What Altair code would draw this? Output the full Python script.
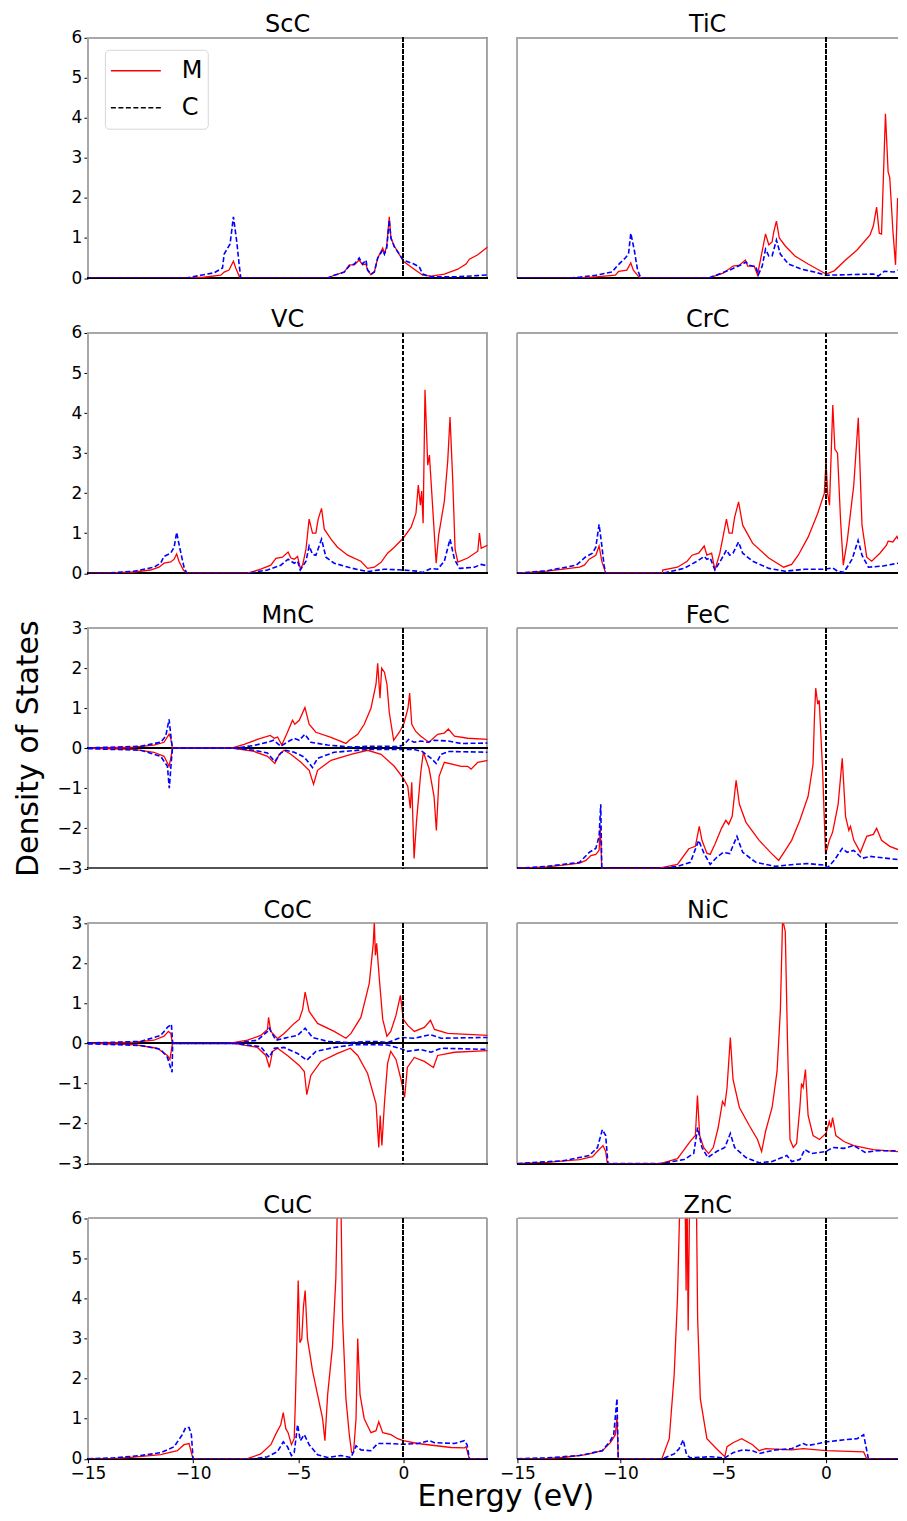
import altair as alt
import pandas as pd

FONT = "DejaVu Sans"

# ---------------- data: (energy eV, DOS) pairs ----------------
SCC_M = [(-15,0),(-10.3,0),(-9.5,0.02),(-8.68,0.07),(-8.52,0.15),(-8.29,0.2),(-8.08,0.42),(-7.97,0.25),(-7.81,0.05),(-7.73,0),
         (-3.6,0),(-3.29,0.07),(-2.81,0.15),(-2.57,0.33),(-2.33,0.33),(-2.1,0.45),(-1.94,0.33),(-1.78,0.35),(-1.7,0.2),(-1.54,0.08),
         (-1.38,0.15),(-1.22,0.5),(-0.98,0.75),(-0.9,0.6),(-0.79,0.8),(-0.67,1.53),(-0.59,1.0),(-0.43,0.8),(0,0.42),(0.52,0.22),
         (0.92,0.07),(1.32,0.05),(1.95,0.1),(2.59,0.22),(2.98,0.35),(3.14,0.47),(3.54,0.58),(4.02,0.78)]
SCC_C = [(-15,0),(-10.3,0),(-9.63,0.07),(-9.0,0.13),(-8.6,0.25),(-8.52,0.6),(-8.24,0.85),(-8.08,1.53),(-7.92,0.9),(-7.81,0.35),(-7.73,0),
         (-3.6,0),(-3.29,0.07),(-2.81,0.15),(-2.57,0.3),(-2.33,0.35),(-2.1,0.5),(-1.94,0.35),(-1.78,0.45),(-1.7,0.2),(-1.54,0.1),
         (-1.38,0.15),(-1.22,0.5),(-0.98,0.7),(-0.9,0.6),(-0.79,0.75),(-0.67,1.45),(-0.59,1.0),(-0.43,0.78),(0,0.45),(0.5,0.35),
         (0.76,0.28),(0.92,0.1),(1.3,0.03),(2.5,0.03),(3.5,0.06),(4.02,0.08)]

TIC_M = [(-15,0),(-12.14,0),(-11.19,0.03),(-10.24,0.07),(-10.08,0.17),(-9.68,0.2),(-9.49,0.38),(-9.37,0.2),(-9.13,0.05),(-9.0,0),
         (-5.71,0),(-5.0,0.12),(-4.52,0.3),(-4.21,0.32),(-3.92,0.45),(-3.81,0.3),(-3.49,0.3),(-3.33,0.08),(-3.13,0.6),(-2.94,1.1),
         (-2.78,0.83),(-2.62,0.9),(-2.54,1.15),(-2.41,1.42),(-2.27,1.0),(-1.98,0.8),(-1.51,0.55),(-0.87,0.35),(-0.24,0.17),(0,0.1),
         (0.4,0.18),(0.95,0.45),(1.51,0.7),(2.14,1.08),(2.3,1.3),(2.46,1.77),(2.59,1.12),(2.7,1.1),(2.89,4.1),(3.02,2.65),(3.1,2.5),
         (3.25,1.2),(3.38,0.33),(3.48,2.0)]
TIC_C = [(-15,0),(-12.5,0),(-11.98,0.02),(-11.19,0.07),(-10.4,0.15),(-10.16,0.3),(-9.76,0.5),(-9.6,0.6),(-9.49,1.12),(-9.32,0.7),
         (-9.16,0.2),(-9.0,0),(-5.71,0),(-4.68,0.2),(-4.05,0.35),(-3.89,0.4),(-3.73,0.32),(-3.41,0.28),(-3.29,0.08),(-3.1,0.3),
         (-2.94,0.72),(-2.78,0.55),(-2.62,0.55),(-2.41,0.95),(-2.22,0.6),(-1.83,0.35),(-1.19,0.22),(-0.56,0.15),(0,0.07),(0.71,0.08),
         (2.3,0.1),(2.54,0.05),(2.84,0.17),(3.3,0.15),(3.48,0.2)]

VC_M = [(-15,0),(-14.16,0),(-12.81,0.03),(-12.02,0.08),(-11.62,0.15),(-11.38,0.25),(-11.06,0.28),(-10.9,0.35),(-10.78,0.48),(-10.67,0.3),
        (-10.46,0.08),(-10.3,0),(-7.41,0),(-6.78,0.1),(-6.3,0.2),(-6.06,0.37),(-5.75,0.4),(-5.48,0.53),(-5.35,0.38),(-5.19,0.35),
        (-5.03,0.42),(-4.9,0.12),(-4.79,0.2),(-4.63,0.6),(-4.48,1.35),(-4.32,1.0),(-4.16,1.0),(-4.05,1.35),(-3.89,1.62),(-3.76,1.1),
        (-3.44,0.85),(-3.13,0.65),(-2.65,0.45),(-2.02,0.3),(-1.7,0.12),(-1.38,0.15),(-1.06,0.27),(-0.75,0.5),(-0.43,0.65),(0,0.88),
        (0.37,1.15),(0.6,1.5),(0.71,2.2),(0.81,1.7),(0.87,2.05),(0.94,1.25),(1.03,4.58),(1.16,2.7),(1.24,2.95),(1.4,1.6),(1.56,0.25),
        (1.68,0.95),(1.95,1.8),(2.11,2.8),(2.22,3.9),(2.35,2.3),(2.46,0.6),(2.59,0.28),(3.06,0.38),(3.54,0.55),(3.62,1.0),(3.7,0.62),
        (4.02,0.7)]
VC_C = [(-15,0),(-14.16,0),(-12.81,0.05),(-11.86,0.15),(-11.54,0.25),(-11.38,0.42),(-11.06,0.5),(-10.9,0.65),(-10.78,1.02),(-10.62,0.6),
        (-10.43,0.15),(-10.3,0),(-7.41,0),(-6.46,0.08),(-5.83,0.2),(-5.48,0.35),(-5.19,0.25),(-5.03,0.3),(-4.9,0.08),(-4.63,0.3),
        (-4.48,0.68),(-4.32,0.47),(-4.16,0.45),(-3.89,0.85),(-3.68,0.4),(-3.29,0.25),(-2.49,0.13),(-1.7,0.04),(-0.9,0.1),(0,0.08),
        (0.68,0.05),(0.92,0.02),(1.32,0.12),(1.63,0.1),(1.95,0.3),(2.22,0.85),(2.43,0.35),(2.67,0.12),(3.38,0.15),(3.7,0.22),(4.02,0.18)]

CRC_M = [(-15,0),(-13.57,0.05),(-11.98,0.15),(-11.75,0.2),(-11.51,0.35),(-11.19,0.45),(-11.03,0.68),(-10.9,0.3),(-10.71,0),(-7.95,0),
         (-7.94,0.08),(-7.22,0.15),(-6.75,0.3),(-6.51,0.45),(-6.19,0.5),(-5.92,0.68),(-5.79,0.45),(-5.56,0.5),(-5.4,0.08),(-5.16,0.5),
         (-4.84,1.35),(-4.71,1.0),(-4.56,1.0),(-4.44,1.4),(-4.25,1.78),(-4.05,1.2),(-3.57,0.75),(-2.78,0.38),(-2.06,0.15),(-1.67,0.22),
         (-1.35,0.45),(-0.87,0.9),(-0.4,1.5),(-0.08,2.0),(0,2.8),(0.08,2.0),(0.17,1.7),(0.33,4.2),(0.43,3.1),(0.56,3.0),(0.71,1.3),
         (0.84,0.2),(1.03,0.8),(1.35,2.2),(1.57,3.88),(1.75,1.2),(1.98,0.4),(2.22,0.3),(2.62,0.5),(2.94,0.7),(3.02,0.8),(3.25,0.78),
         (3.45,0.92),(3.5,0.85)]
CRC_C = [(-15,0),(-13.57,0.06),(-12.14,0.2),(-11.7,0.4),(-11.35,0.5),(-11.19,0.65),(-11.03,1.22),(-10.9,0.7),(-10.79,0.2),(-10.71,0),
         (-7.94,0),(-6.9,0.12),(-6.27,0.3),(-5.92,0.42),(-5.79,0.35),(-5.63,0.38),(-5.4,0.08),(-5.08,0.35),(-4.84,0.58),(-4.68,0.45),
         (-4.52,0.5),(-4.25,0.78),(-4.05,0.5),(-3.57,0.3),(-2.78,0.12),(-1.98,0.05),(-1.03,0.1),(-0.08,0.1),(0.33,0.13),(0.56,0.05),
         (0.87,0.02),(1.27,0.35),(1.56,0.82),(1.75,0.45),(2.06,0.15),(2.78,0.18),(3.5,0.25)]

MNC_M_UP = [(-15,0),(-12.81,0.03),(-11.86,0.08),(-11.38,0.15),(-11.14,0.35),(-11.06,0.25),(-10.98,0),(-8.21,0),(-7.57,0.1),(-6.94,0.22),
            (-6.33,0.32),(-6.14,0.25),(-5.98,0.28),(-5.78,0.08),(-5.51,0.4),(-5.27,0.7),(-5.16,0.6),(-4.95,0.7),(-4.68,1.02),(-4.48,0.6),
            (-4.16,0.4),(-3.44,0.27),(-2.73,0.12),(-2.57,0.2),(-2.17,0.35),(-1.86,0.6),(-1.54,1.0),(-1.3,1.6),(-1.22,2.12),(-1.11,1.25),
            (-1.03,2.0),(-0.9,1.9),(-0.78,1.6),(-0.67,0.9),(-0.46,0.2),(-0.19,0.4),(0.03,0.62),(0.22,1.0),(0.3,1.38),(0.4,0.6),(0.59,0.42),
            (0.83,0.3),(1.22,0.15),(1.63,0.35),(1.95,0.38),(2.14,0.48),(2.43,0.3),(3.06,0.25),(4.02,0.22)]
MNC_M_DN = [(-15,0),(-12.81,-0.03),(-11.86,-0.1),(-11.38,-0.2),(-11.14,-0.45),(-11.06,-0.25),(-10.98,0),(-8.05,0),(-7.1,-0.08),(-6.46,-0.2),
            (-6.11,-0.38),(-5.9,-0.15),(-5.67,-0.05),(-5.35,-0.15),(-4.87,-0.35),(-4.48,-0.55),(-4.27,-0.9),(-4.08,-0.55),(-3.44,-0.3),
            (-2.49,-0.15),(-1.7,-0.05),(-1.06,-0.15),(-0.43,-0.45),(0,-0.75),(0.21,-0.95),(0.33,-1.5),(0.4,-0.85),(0.51,-2.75),(0.63,-1.8),
            (0.83,-0.6),(0.95,-0.1),(1.22,-0.5),(1.46,-1.2),(1.57,-2.05),(1.7,-0.7),(1.95,-0.35),(2.75,-0.45),(3.06,-0.45),(3.22,-0.52),
            (3.54,-0.35),(4.02,-0.3)]
MNC_C_UP = [(-15,0.01),(-12.49,0.05),(-11.54,0.15),(-11.3,0.3),(-11.14,0.72),(-11.03,0.2),(-10.98,0),(-8.05,0),(-7.1,0.07),(-6.46,0.15),
            (-6.17,0.2),(-5.83,0.05),(-5.43,0.18),(-5.19,0.25),(-4.95,0.2),(-4.68,0.35),(-4.4,0.15),(-3.6,0.08),(-2.49,0.03),(-1.54,0.05),
            (-0.9,0.05),(-0.27,0.04),(0,0.08),(0.25,0.22),(0.51,0.15),(0.83,0.18),(1.16,0.15),(1.48,0.2),(2.14,0.18),(2.75,0.12),(4.02,0.13)]
MNC_C_DN = [(-15,-0.01),(-12.49,-0.05),(-11.54,-0.2),(-11.22,-0.45),(-11.13,-1.0),(-11.03,-0.3),(-10.98,0),(-8.05,0),(-7.1,-0.05),
            (-6.46,-0.12),(-6.11,-0.33),(-5.83,-0.12),(-5.59,-0.05),(-5.19,-0.1),(-4.71,-0.22),(-4.32,-0.48),(-4.08,-0.25),(-3.29,-0.1),
            (-1.7,-0.03),(-0.02,-0.03),(0.51,-0.03),(0.9,-0.08),(1.32,-0.25),(1.56,-0.38),(1.79,-0.15),(2.17,-0.08),(4.02,-0.1)]

FEC_M = [(-15,-3.0),(-13.57,-2.96),(-12.78,-2.92),(-11.98,-2.87),(-11.67,-2.8),(-11.43,-2.68),(-11.19,-2.65),(-11.03,-2.55),(-10.97,-1.96),
         (-10.9,-3.0),(-8.17,-3.0),(-7.22,-2.9),(-6.67,-2.51),(-6.35,-2.45),(-6.16,-1.95),(-6.03,-2.3),(-5.79,-2.62),(-5.63,-2.65),
         (-5.4,-2.4),(-5.08,-2.0),(-4.87,-1.8),(-4.73,-1.9),(-4.56,-1.7),(-4.37,-0.8),(-4.21,-1.4),(-3.89,-1.85),(-3.25,-2.3),(-2.7,-2.6),
         (-2.3,-2.8),(-1.98,-2.55),(-1.67,-2.3),(-1.27,-1.8),(-0.87,-1.2),(-0.63,-0.4),(-0.56,0.8),(-0.5,1.5),(-0.4,1.1),(-0.33,1.2),
         (-0.17,-0.5),(-0.02,-2.65),(0.16,-2.3),(0.32,-2.1),(0.59,-1.4),(0.79,-0.25),(0.95,-1.7),(1.11,-2.05),(1.19,-1.95),(1.35,-2.3),
         (1.67,-2.6),(1.98,-2.2),(2.3,-2.15),(2.46,-2.0),(2.7,-2.3),(3.1,-2.45),(3.5,-2.53)]
FEC_C = [(-15,-3.0),(-13.57,-2.95),(-11.98,-2.85),(-11.51,-2.6),(-11.19,-2.5),(-11.03,-2.2),(-10.95,-1.4),(-10.9,-3.0),(-8.02,-3.0),
         (-7.22,-2.95),(-6.59,-2.85),(-6.19,-2.3),(-5.95,-2.6),(-5.63,-2.9),(-5.32,-2.73),(-5.0,-2.6),(-4.68,-2.63),(-4.33,-2.2),
         (-4.05,-2.6),(-3.41,-2.85),(-2.46,-2.95),(-1.51,-2.9),(-0.87,-2.88),(-0.08,-2.92),(0.08,-2.98),(0.4,-2.8),(0.79,-2.5),
         (1.03,-2.6),(1.35,-2.55),(1.75,-2.75),(2.14,-2.7),(3.5,-2.78)]

COC_M_UP = [(-15,0),(-12.81,0.03),(-11.86,0.08),(-11.38,0.18),(-11.17,0.3),(-11.06,0.25),(-10.98,0),(-8.29,0),(-7.41,0.08),(-6.78,0.2),
            (-6.46,0.35),(-6.41,0.65),(-6.3,0.3),(-5.98,0.12),(-5.67,0.25),(-5.19,0.5),(-4.95,0.6),(-4.79,0.85),(-4.67,1.28),(-4.48,0.8),
            (-4.08,0.5),(-3.29,0.3),(-2.73,0.13),(-2.49,0.25),(-2.02,0.65),(-1.62,1.5),(-1.43,2.5),(-1.38,3.05),(-1.33,2.2),(-1.27,2.5),
            (-1.14,1.6),(-0.98,0.6),(-0.78,0.18),(-0.6,0.3),(-0.35,0.7),(-0.14,1.2),(0,0.6),(0.21,0.45),(0.52,0.3),(1.0,0.4),(1.29,0.58),
            (1.48,0.35),(2.11,0.25),(4.02,0.2)]
COC_M_DN = [(-15,0),(-12.81,-0.03),(-11.7,-0.12),(-11.22,-0.3),(-11.1,-0.4),(-10.98,0),(-8.05,0),(-6.94,-0.1),(-6.54,-0.3),(-6.37,-0.6),
            (-6.22,-0.2),(-5.98,-0.12),(-5.51,-0.3),(-4.95,-0.55),(-4.71,-0.7),(-4.59,-1.28),(-4.4,-0.8),(-3.92,-0.45),(-3.13,-0.25),
            (-2.52,-0.12),(-2.17,-0.3),(-1.7,-0.75),(-1.3,-1.5),(-1.17,-2.6),(-1.1,-1.8),(-1.02,-2.55),(-0.9,-1.5),(-0.75,-0.5),(-0.6,-0.2),
            (-0.35,-0.4),(-0.11,-0.9),(0.06,-1.35),(0.19,-0.6),(0.52,-0.35),(1.0,-0.45),(1.43,-0.6),(1.63,-0.3),(2.43,-0.22),(4.02,-0.18)]
COC_C_UP = [(-15,0.01),(-12.49,0.05),(-11.54,0.2),(-11.22,0.4),(-11.03,0.48),(-10.97,0),(-8.05,0),(-6.94,0.08),(-6.46,0.3),(-6.38,0.38),
            (-6.06,0.08),(-5.51,0.15),(-5.03,0.2),(-4.67,0.38),(-4.32,0.15),(-3.6,0.05),(-2.49,0.02),(-1.7,0.05),(-1.22,0.05),(-0.75,0.02),
            (-0.11,0.15),(0.52,0.13),(1.29,0.22),(1.79,0.13),(4.02,0.15)]
COC_C_DN = [(-15,-0.01),(-12.49,-0.05),(-11.54,-0.15),(-11.22,-0.35),(-11.0,-0.72),(-10.97,0),(-8.05,0),(-6.78,-0.08),(-6.38,-0.35),
            (-6.14,-0.12),(-5.67,-0.1),(-5.03,-0.25),(-4.59,-0.42),(-4.16,-0.2),(-3.29,-0.1),(-2.33,-0.03),(-1.54,-0.03),(-0.75,-0.04),
            (0,-0.15),(0.13,-0.2),(0.83,-0.15),(1.32,-0.22),(1.79,-0.12),(4.02,-0.15)]

NIC_M = [(-15,-3.0),(-13.57,-2.97),(-11.98,-2.9),(-11.35,-2.83),(-11.03,-2.65),(-10.84,-2.55),(-10.71,-2.7),(-10.63,-3.0),(-8.05,-3.0),
         (-7.22,-2.88),(-6.59,-2.44),(-6.35,-2.3),(-6.25,-1.3),(-6.14,-2.3),(-5.95,-2.6),(-5.71,-2.75),(-5.48,-2.6),(-5.24,-2.1),
         (-5.03,-1.45),(-4.92,-1.55),(-4.81,-1.1),(-4.65,0.15),(-4.52,-0.9),(-4.21,-1.6),(-3.73,-2.05),(-3.33,-2.4),(-3.13,-2.7),
         (-2.94,-2.2),(-2.62,-1.6),(-2.38,-0.7),(-2.22,0.8),(-2.11,3.1),(-1.98,2.8),(-1.87,0.0),(-1.75,-2.4),(-1.59,-2.6),(-1.43,-2.5),
         (-1.27,-1.6),(-1.19,-1.0),(-1.11,-1.1),(-1.0,-0.65),(-0.87,-1.8),(-0.63,-2.3),(-0.32,-2.4),(0,-2.25),(0.16,-1.95),(0.24,-2.1),
         (0.32,-1.85),(0.48,-2.3),(0.87,-2.45),(1.35,-2.55),(2.3,-2.65),(3.5,-2.7)]
NIC_C = [(-15,-3.0),(-12.78,-2.93),(-11.51,-2.8),(-11.11,-2.6),(-10.87,-2.15),(-10.71,-2.3),(-10.6,-3.0),(-8.02,-3.0),(-6.9,-2.9),
         (-6.43,-2.75),(-6.24,-2.1),(-6.03,-2.6),(-5.75,-2.85),(-5.32,-2.7),(-4.92,-2.6),(-4.65,-2.25),(-4.44,-2.6),(-3.89,-2.85),
         (-3.25,-2.98),(-2.62,-2.95),(-1.9,-2.8),(-1.67,-2.95),(-1.27,-2.9),(-1.03,-2.65),(-0.71,-2.75),(0,-2.7),(0.32,-2.6),
         (0.87,-2.62),(1.35,-2.55),(1.9,-2.72),(2.46,-2.68),(3.5,-2.68)]

CUC_M = [(-15,0),(-13.76,0),(-12.81,0.04),(-11.54,0.1),(-10.75,0.2),(-10.43,0.35),(-10.19,0.38),(-10.03,0.05),(-9.98,0),(-7.41,0),
         (-6.78,0.12),(-6.3,0.35),(-6.06,0.62),(-5.83,0.85),(-5.71,1.15),(-5.59,0.75),(-5.48,0.65),(-5.32,0.35),(-5.19,0.5),(-5.13,1.5),
         (-5.06,3.0),(-5.0,4.45),(-4.92,2.9),(-4.83,3.0),(-4.75,3.8),(-4.67,4.2),(-4.56,3.0),(-4.32,2.2),(-4.08,1.6),(-3.84,1.0),
         (-3.73,0.45),(-3.6,1.6),(-3.37,2.8),(-3.21,4.5),(-3.13,6.5),(-2.97,6.5),(-2.89,3.5),(-2.73,1.5),(-2.57,0.6),(-2.46,0.15),
         (-2.37,0.15),(-2.25,1.0),(-2.17,3.0),(-2.06,1.6),(-1.86,1.0),(-1.54,0.65),(-1.3,0.7),(-1.17,0.92),(-0.98,0.65),(-0.59,0.6),
         (-0.27,0.5),(0,0.45),(0.68,0.38),(1.48,0.33),(2.27,0.28),(2.9,0.27),(2.98,0.3),(3.14,0),(4.02,0)]
CUC_C = [(-15,0),(-13.76,0.02),(-12.49,0.08),(-11.54,0.15),(-10.9,0.3),(-10.51,0.6),(-10.35,0.78),(-10.19,0.78),(-10.08,0.6),(-10.0,0),
         (-7.1,0),(-6.46,0.05),(-5.98,0.18),(-5.71,0.42),(-5.51,0.3),(-5.32,0.08),(-5.19,0.15),(-5.03,0.85),(-4.9,0.45),(-4.71,0.6),
         (-4.48,0.35),(-4.08,0.1),(-3.6,0.03),(-2.97,0.08),(-2.49,0.03),(-2.25,0.32),(-2.02,0.22),(-1.54,0.2),(-1.22,0.38),(-0.75,0.38),
         (0,0.36),(0.68,0.38),(1.24,0.45),(1.48,0.4),(2.43,0.38),(2.9,0.45),(3.03,0.35),(3.14,0),(4.02,0)]

ZNC_M = [(-15,0),(-13.57,0),(-12.78,0.03),(-11.67,0.1),(-10.87,0.2),(-10.48,0.4),(-10.24,0.6),(-10.16,1.05),(-10.1,0),(-7.98,0),
         (-7.62,0.5),(-7.38,2.1),(-7.22,4.0),(-7.1,6.5),(-6.86,7.0),(-6.8,4.2),(-6.76,7.0),(-6.7,3.2),(-6.62,7.0),(-6.4,7.0),(-6.3,6.5),
         (-6.24,3.5),(-6.11,1.5),(-5.79,0.5),(-5.32,0.25),(-4.92,0.05),(-4.81,0.3),(-4.52,0.4),(-4.1,0.5),(-3.57,0.35),(-3.25,0.2),
         (-2.94,0.25),(-1.67,0.22),(-1.11,0.25),(0,0.2),(1.83,0.17),(1.98,0),(3.5,0)]
ZNC_C = [(-15,0),(-13.57,0.02),(-11.98,0.08),(-10.87,0.2),(-10.48,0.45),(-10.32,0.6),(-10.16,1.5),(-10.1,0),(-7.94,0),(-7.38,0.12),
         (-7.14,0.25),(-6.94,0.47),(-6.78,0.1),(-6.59,0.02),(-5.63,0.05),(-4.92,0.02),(-4.52,0.15),(-4.05,0.22),(-3.57,0.2),(-3.25,0.13),
         (-2.46,0.22),(-1.67,0.25),(-1.11,0.38),(-0.87,0.33),(0,0.42),(1.03,0.48),(1.51,0.5),(1.83,0.6),(2.06,0),(3.5,0)]

PANELS = [
    # name, M up, C up, M down, C down, y domain, baseline, column, bottom row
    ("ScC", SCC_M, SCC_C, None, None, [0, 6], 0, 0, False),
    ("TiC", TIC_M, TIC_C, None, None, [0, 6], 0, 1, False),
    ("VC", VC_M, VC_C, None, None, [0, 6], 0, 0, False),
    ("CrC", CRC_M, CRC_C, None, None, [0, 6], 0, 1, False),
    ("MnC", MNC_M_UP, MNC_C_UP, MNC_M_DN, MNC_C_DN, [-3, 3], 0, 0, False),
    ("FeC", FEC_M, FEC_C, None, None, [-3, 3], -3, 1, False),
    ("CoC", COC_M_UP, COC_C_UP, COC_M_DN, COC_C_DN, [-3, 3], 0, 0, False),
    ("NiC", NIC_M, NIC_C, None, None, [-3, 3], -3, 1, False),
    ("CuC", CUC_M, CUC_C, None, None, [0, 6], 0, 0, True),
    ("ZnC", ZNC_M, ZNC_C, None, None, [0, 6], 0, 1, True),
]

X_DOM = {0: [-15, 4.0], 1: [-15, 3.5]}
WIDTH = {0: 400, 1: 381}
HEIGHT = 240.5
FRAME = "#a8a8a8"
TICK_FS = 17


def make_panel(name, m_up, c_up, m_dn, c_dn, ydom, base, col, bottom):
    rows = []
    for series, spin, pts in (("M", "up", m_up), ("C", "up", c_up), ("M", "dn", m_dn), ("C", "dn", c_dn)):
        for i, (e, v) in enumerate(pts or []):
            rows.append({"series": series, "spin": spin, "i": i, "E": e, "V": v})
    df = pd.DataFrame(rows)

    xscale = alt.Scale(domain=X_DOM[col], nice=False, zero=False)
    yscale = alt.Scale(domain=ydom, nice=False, zero=False)

    if bottom:
        xaxis_kw = dict(values=[-15, -10, -5, 0], format="d", labelFontSize=TICK_FS, labelFont=FONT,
                        labelColor="black", tickColor="black", tickSize=4, labelPadding=3,
                        grid=False, domain=False, labelFlush=False)
        if col == 0:
            xaxis_kw.update(title="Energy (eV)", titleFontSize=30, titleFont=FONT, titleFontWeight="normal",
                            titleColor="black", titleX=418, titleAlign="center", titlePadding=0)
        else:
            xaxis_kw.update(title=None)
        xaxis = alt.Axis(**xaxis_kw)
    else:
        xaxis = None

    if col == 0:
        yaxis_kw = dict(values=list(range(ydom[0], ydom[1] + 1)), format="d", labelFontSize=TICK_FS, labelFont=FONT,
                        labelColor="black", tickColor="black", tickSize=4, labelPadding=2,
                        grid=False, domain=False, labelFlush=False)
        if name == "MnC":
            yaxis_kw.update(title="Density of States", titleFontSize=30, titleFont=FONT, titleFontWeight="normal",
                            titleColor="black", titlePadding=13)
        else:
            yaxis_kw.update(title=None)
        yaxis = alt.Axis(**yaxis_kw)
    else:
        yaxis = None

    X = alt.X("E:Q", scale=xscale, axis=xaxis)
    Y = alt.Y("V:Q", scale=yscale, axis=yaxis)

    base_chart = alt.Chart(df)

    layers = []
    # frame
    layers.append(alt.Chart(df).mark_rule(color=FRAME, strokeWidth=1).encode(
        y=alt.YDatum(ydom[1], scale=yscale, axis=yaxis)))
    layers.append(alt.Chart(df).mark_rule(color=FRAME, strokeWidth=1).encode(
        x=alt.XDatum(X_DOM[col][0], scale=xscale, axis=xaxis)))
    if col == 0:
        layers.append(alt.Chart(df).mark_rule(color=FRAME, strokeWidth=1).encode(
            x=alt.XDatum(X_DOM[col][1], scale=xscale, axis=xaxis)))
    layers.append(alt.Chart(df).mark_rule(color="#555555", strokeWidth=1).encode(
        y=alt.YDatum(ydom[0], scale=yscale, axis=yaxis)))
    # baseline
    layers.append(alt.Chart(df).mark_rule(color="black", strokeWidth=1).encode(
        y=alt.YDatum(base, scale=yscale, axis=yaxis)))

    m_line = base_chart.transform_filter(alt.datum.series == "M").mark_line(
        color="#ff0000", strokeWidth=1.3, clip=True).encode(
        x=X, y=Y, detail="spin:N", order="i:Q")
    c_line = base_chart.transform_filter(alt.datum.series == "C").mark_line(
        color="#0000ff", strokeWidth=1.6, strokeDash=[5, 2.5], clip=True).encode(
        x=X, y=Y, detail="spin:N", order="i:Q")
    layers += [m_line, c_line]

    # Fermi level
    layers.append(alt.Chart(df).mark_rule(color="black", strokeWidth=1.1, strokeDash=[4, 2]).encode(
        x=alt.XDatum(0, scale=xscale, axis=xaxis)))

    if name == "ScC":
        leg = alt.Legend(orient="none", legendX=17, legendY=12, title=None, labelFontSize=24, labelFont=FONT,
                         labelColor="black", symbolType="stroke", symbolSize=2500, symbolStrokeWidth=1.4,
                         symbolOpacity=1, fillColor="white", strokeColor="#d6d6d6", cornerRadius=4,
                         padding=5, clipHeight=32, rowPadding=5, labelOffset=20)
        dummy = base_chart.transform_filter(alt.datum.spin == "up").mark_line(opacity=0, clip=True).encode(
            x=X, y=Y,
            color=alt.Color("series:N", scale=alt.Scale(domain=["M", "C"], range=["#ff0000", "#000000"]), legend=leg),
            strokeDash=alt.StrokeDash("series:N", scale=alt.Scale(domain=["M", "C"], range=[[1, 0], [5, 2.5]]),
                                      legend=leg),
            order="i:Q")
        layers.append(dummy)

    # left-column titles sit above the half-label overhang of the top y tick label; compensate
    title_offset = -8.5 if col == 0 else 0
    return alt.layer(*layers).properties(
        width=WIDTH[col], height=HEIGHT,
        title=alt.TitleParams(name, fontSize=24, font=FONT, fontWeight="normal", color="black",
                              offset=title_offset, frame="group"))


charts = [make_panel(*p) for p in PANELS]

chart = alt.concat(*charts, columns=2, spacing={"row": 54.5, "column": 30}, align="each", bounds="flush").properties(
    padding={"left": 5, "top": 4, "right": 0, "bottom": 0}
).configure_view(strokeWidth=0)

chart.save("out.html", embed_options={"renderer": "svg", "actions": False})
